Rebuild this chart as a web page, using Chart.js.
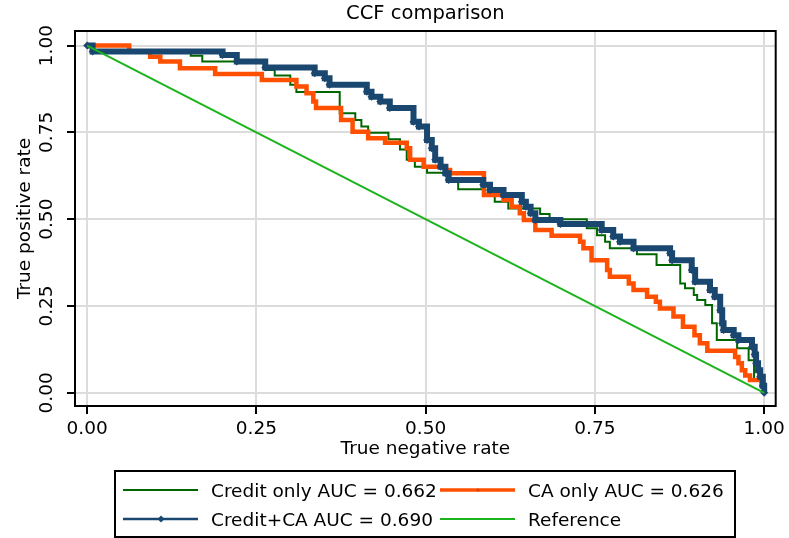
<!DOCTYPE html>
<html>
<head>
<meta charset="utf-8">
<script src="https://cdn.jsdelivr.net/npm/chart.js@4.4.0/dist/chart.umd.min.js"></script>
<style>
  html, body { margin: 0; padding: 0; background: #fff; }
</style>
</head>
<body>
<canvas id="roc" width="789" height="538"></canvas>
<script>
// true negative rate (x) / true positive rate (y)
// each point starts a flat run that lasts until the next x
const creditX = [0, 0.008, 0.153, 0.170, 0.263, 0.277, 0.300, 0.309, 0.373, 0.396, 0.405, 0.415, 0.445, 0.462, 0.472, 0.484, 0.502, 0.531, 0.548, 0.588, 0.602, 0.622, 0.669, 0.683, 0.738, 0.753, 0.765, 0.772, 0.812, 0.841, 0.876, 0.883, 0.896, 0.901, 0.913, 0.923, 0.930, 0.960, 0.977, 0.985, 1];
const creditY = [1, 0.983, 0.971, 0.954, 0.930, 0.914, 0.887, 0.866, 0.805, 0.786, 0.767, 0.749, 0.730, 0.701, 0.671, 0.651, 0.634, 0.613, 0.586, 0.570, 0.550, 0.531, 0.515, 0.500, 0.474, 0.454, 0.435, 0.416, 0.399, 0.368, 0.315, 0.301, 0.282, 0.267, 0.253, 0.200, 0.152, 0.128, 0.094, 0.037, 0];

const caX = [0, 0.062, 0.093, 0.108, 0.137, 0.189, 0.258, 0.309, 0.324, 0.334, 0.338, 0.375, 0.392, 0.415, 0.440, 0.472, 0.477, 0.497, 0.530, 0.536, 0.586, 0.615, 0.627, 0.639, 0.645, 0.662, 0.686, 0.728, 0.733, 0.745, 0.768, 0.772, 0.800, 0.807, 0.827, 0.840, 0.846, 0.866, 0.880, 0.897, 0.905, 0.916, 0.957, 0.962, 0.967, 0.972, 0.979, 0.996, 1];
const caY = [1, 0.983, 0.968, 0.954, 0.935, 0.918, 0.901, 0.882, 0.863, 0.839, 0.820, 0.786, 0.752, 0.733, 0.720, 0.704, 0.671, 0.651, 0.642, 0.632, 0.570, 0.555, 0.536, 0.517, 0.498, 0.469, 0.452, 0.435, 0.416, 0.382, 0.354, 0.334, 0.315, 0.296, 0.277, 0.262, 0.243, 0.220, 0.190, 0.166, 0.143, 0.121, 0.103, 0.085, 0.065, 0.050, 0.037, 0.020, 0];

const bothX = [0, 0.008, 0.200, 0.221, 0.263, 0.336, 0.351, 0.358, 0.413, 0.420, 0.433, 0.447, 0.482, 0.490, 0.502, 0.509, 0.514, 0.522, 0.529, 0.534, 0.585, 0.595, 0.615, 0.642, 0.648, 0.655, 0.662, 0.699, 0.760, 0.777, 0.787, 0.807, 0.861, 0.864, 0.893, 0.898, 0.920, 0.927, 0.935, 0.938, 0.940, 0.955, 0.962, 0.982, 0.986, 0.988, 0.991, 0.994, 0.998, 1];
const bothY = [1, 0.983, 0.973, 0.954, 0.937, 0.920, 0.906, 0.887, 0.867, 0.853, 0.839, 0.820, 0.781, 0.767, 0.728, 0.704, 0.671, 0.651, 0.632, 0.613, 0.599, 0.584, 0.570, 0.550, 0.536, 0.517, 0.498, 0.486, 0.469, 0.450, 0.435, 0.416, 0.402, 0.382, 0.354, 0.320, 0.296, 0.277, 0.238, 0.200, 0.181, 0.166, 0.152, 0.133, 0.110, 0.085, 0.065, 0.046, 0.020, 0];

const refX = [0, 1];
const refY = [1, 0];

const tickValues = [0, 0.25, 0.5, 0.75, 1];
const labels = ['Credit only AUC = 0.662', 'CA only AUC = 0.626', 'Credit+CA AUC = 0.690', 'Reference'];

const FONT = '"DejaVu Sans", Verdana, sans-serif';
const FS = 18.5;
const toPoints = (xs, ys) => xs.map((x, i) => ({ x: x, y: ys[i] }));

// legend drawn by hand: Stata style boxed 2x2 legend
const legendLineWidth = [2, 3.5, 2.5, 2];
const boxLegend = {
  id: 'boxLegend',
  beforeDraw(chart) {
    const ctx = chart.ctx;
    ctx.save();
    ctx.fillStyle = '#fff';
    ctx.fillRect(0, 0, chart.width, chart.height);
    ctx.restore();
  },
  afterDraw(chart) {
    const ctx = chart.ctx;
    const area = chart.chartArea;
    ctx.save();
    // frame around plot region
    ctx.strokeStyle = '#000';
    ctx.lineWidth = 2;
    ctx.strokeRect(area.left, area.top, area.right - area.left, area.bottom - area.top);

    // title centred on plot region
    ctx.fillStyle = '#000';
    ctx.font = '19.5px ' + FONT;
    ctx.textAlign = 'center';
    ctx.textBaseline = 'middle';
    ctx.fillText('CCF comparison', (area.left + area.right) / 2, 14);

    // legend box
    ctx.font = FS + 'px ' + FONT;
    ctx.strokeRect(115, 471, 620, 66);
    ctx.textAlign = 'left';
    chart.data.datasets.forEach((ds, i) => {
      const col = i % 2, row = Math.floor(i / 2);
      const x0 = col ? 440 : 123;
      const y = row ? 519 : 490;
      ctx.strokeStyle = ds.borderColor;
      ctx.lineWidth = legendLineWidth[i];
      ctx.beginPath();
      ctx.moveTo(x0, y);
      ctx.lineTo(x0 + 75, y);
      ctx.stroke();
      if (i === 2) {
        ctx.fillStyle = ds.borderColor;
        ctx.beginPath();
        ctx.moveTo(x0 + 38, y - 3.5);
        ctx.lineTo(x0 + 41.5, y);
        ctx.lineTo(x0 + 38, y + 3.5);
        ctx.lineTo(x0 + 34.5, y);
        ctx.closePath();
        ctx.fill();
      } else if (i === 1) {
        ctx.fillStyle = '#d84000';
        ctx.beginPath();
        ctx.arc(x0 + 38, y, 1.5, 0, Math.PI * 2);
        ctx.fill();
      }
      ctx.fillStyle = '#000';
      ctx.fillText(ds.label, x0 + 88, y + 2);
    });
    ctx.restore();
  }
};

const setTicks = scale => { scale.ticks = tickValues.map(v => ({ value: v })); };

new Chart(document.getElementById('roc'), {
  type: 'scatter',
  data: {
    datasets: [
      {
        label: labels[0],
        data: toPoints(creditX, creditY),
        showLine: true,
        stepped: 'before',
        borderColor: '#006600',
        borderWidth: 2,
        pointRadius: 0,
        order: 4
      },
      {
        label: labels[1],
        data: toPoints(caX, caY),
        showLine: true,
        stepped: 'before',
        borderColor: '#ff4f00',
        borderWidth: 4.5,
        pointRadius: 0,
        order: 3
      },
      {
        label: labels[2],
        data: toPoints(bothX, bothY),
        showLine: true,
        stepped: 'before',
        borderColor: '#1a476f',
        borderWidth: 6,
        pointStyle: 'rectRot',
        pointRadius: 4,
        pointBorderWidth: 0,
        pointBackgroundColor: '#1a476f',
        order: 2
      },
      {
        label: labels[3],
        data: toPoints(refX, refY),
        showLine: true,
        borderColor: '#1cb41c',
        borderWidth: 2,
        pointRadius: 0,
        order: 1
      }
    ]
  },
  options: {
    responsive: false,
    animation: false,
    devicePixelRatio: 1,
    layout: { padding: { top: 31, right: 13, bottom: 78, left: 0 } },
    plugins: {
      legend: { display: false },
      title: { display: false },
      tooltip: { enabled: false }
    },
    scales: {
      x: {
        type: 'linear',
        min: -0.018,
        max: 1.017,
        afterBuildTicks: setTicks,
        afterFit: s => { s.height = 54; },
        border: { display: false },
        grid: { color: '#dcdcdc', lineWidth: 2, tickColor: '#000', tickLength: 8, tickWidth: 2 },
        ticks: {
          color: '#000',
          font: { family: FONT, size: FS },
          padding: 4,
          maxRotation: 0,
          minRotation: 0,
          callback: v => v.toFixed(2)
        },
        title: {
          display: true,
          text: 'True negative rate',
          color: '#000',
          font: { family: FONT, size: FS },
          padding: 0
        }
      },
      y: {
        type: 'linear',
        min: -0.038,
        max: 1.042,
        afterBuildTicks: setTicks,
        afterFit: s => { s.width = 75; },
        border: { display: false },
        grid: { color: '#dcdcdc', lineWidth: 2, tickColor: '#000', tickLength: 8, tickWidth: 2 },
        ticks: {
          color: '#000',
          font: { family: FONT, size: FS },
          padding: -1,
          minRotation: 90,
          maxRotation: 90,
          crossAlign: 'center',
          callback: v => v.toFixed(2)
        },
        title: {
          display: true,
          text: 'True positive rate',
          color: '#000',
          font: { family: FONT, size: FS },
          padding: { top: 14, bottom: 0 }
        }
      }
    }
  },
  plugins: [boxLegend]
});
</script>
</body>
</html>
